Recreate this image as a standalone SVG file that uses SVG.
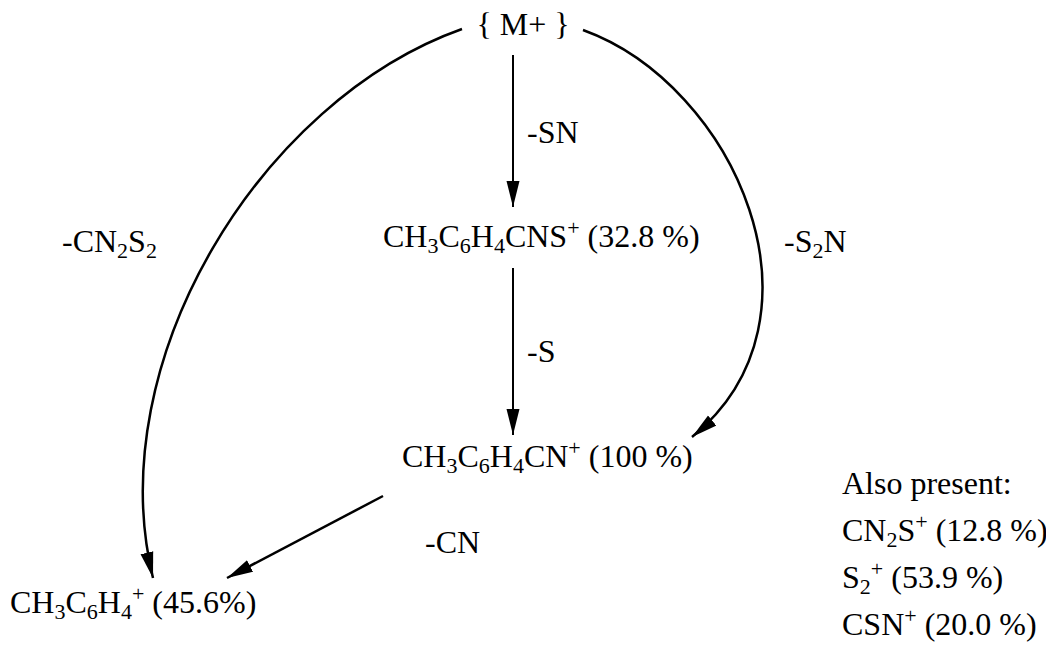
<svg xmlns="http://www.w3.org/2000/svg" width="1046" height="651" viewBox="0 0 1046 651">
<style>
.t{font-family:"Liberation Serif","Times New Roman",serif;font-size:32px;fill:#000}
.s{font-size:22px}
.c{fill:none;stroke:#000;stroke-width:2.5}
.v{fill:none;stroke:#000;stroke-width:2}
</style>
<defs>
<marker id="ah" markerUnits="userSpaceOnUse" markerWidth="28" markerHeight="14" refX="26" refY="7" orient="auto">
<path d="M0,0.5 L26,7 L0,13.5 Z" fill="#000"/>
</marker>
</defs>
<rect width="1046" height="651" fill="#fff"/>
<g id="connectors">
<path class="v" d="M513,55 L513,207" marker-end="url(#ah)"/>
<path class="v" d="M513,268 L513,435" marker-end="url(#ah)"/>
<path class="c" d="M462,29 C262,100 100,360 153,578" marker-end="url(#ah)"/>
<path class="c" d="M583,30 C735,85 838,318 692,437" marker-end="url(#ah)"/>
<path class="c" d="M383,496 L227,578" marker-end="url(#ah)"/>
<text class="t" x="527" y="143">-SN</text>
<text class="t" x="527" y="362">-S</text>
<text class="t" x="62" y="252">-CN<tspan class="s" dy="6">2</tspan><tspan dy="-6">S</tspan><tspan class="s" dy="6">2</tspan></text>
<text class="t" x="784" y="252">-S<tspan class="s" dy="6">2</tspan><tspan dy="-6">N</tspan></text>
<text class="t" x="425" y="553">-CN</text>
</g>
<g id="node-M">
<text class="t" x="523" y="35" text-anchor="middle">{ M+ }</text>
</g>
<g id="node-CNS">
<text class="t" x="383" y="247">CH<tspan class="s" dy="6">3</tspan><tspan dy="-6">C</tspan><tspan class="s" dy="6">6</tspan><tspan dy="-6">H</tspan><tspan class="s" dy="6">4</tspan><tspan dy="-6">CNS</tspan><tspan class="s" dy="-12">+</tspan><tspan dy="12"> (32.8 %)</tspan></text>
</g>
<g id="node-CN">
<text class="t" x="402" y="467">CH<tspan class="s" dy="6">3</tspan><tspan dy="-6">C</tspan><tspan class="s" dy="6">6</tspan><tspan dy="-6">H</tspan><tspan class="s" dy="6">4</tspan><tspan dy="-6">CN</tspan><tspan class="s" dy="-12">+</tspan><tspan dy="12"> (100 %)</tspan></text>
</g>
<g id="node-C6H4">
<text class="t" x="10" y="613">CH<tspan class="s" dy="6">3</tspan><tspan dy="-6">C</tspan><tspan class="s" dy="6">6</tspan><tspan dy="-6">H</tspan><tspan class="s" dy="6">4</tspan><tspan class="s" dy="-18">+</tspan><tspan dy="12"> (45.6%)</tspan></text>
</g>
<g id="also-present">
<text class="t" x="842" y="494">Also present:</text>
<text class="t" x="842" y="541">CN<tspan class="s" dy="6">2</tspan><tspan dy="-6">S</tspan><tspan class="s" dy="-12">+</tspan><tspan dy="12"> (12.8 %)</tspan></text>
<text class="t" x="842" y="588">S<tspan class="s" dy="6">2</tspan><tspan class="s" dy="-18">+</tspan><tspan dy="12"> (53.9 %)</tspan></text>
<text class="t" x="842" y="635">CSN<tspan class="s" dy="-12">+</tspan><tspan dy="12"> (20.0 %)</tspan></text>
</g>
</svg>
